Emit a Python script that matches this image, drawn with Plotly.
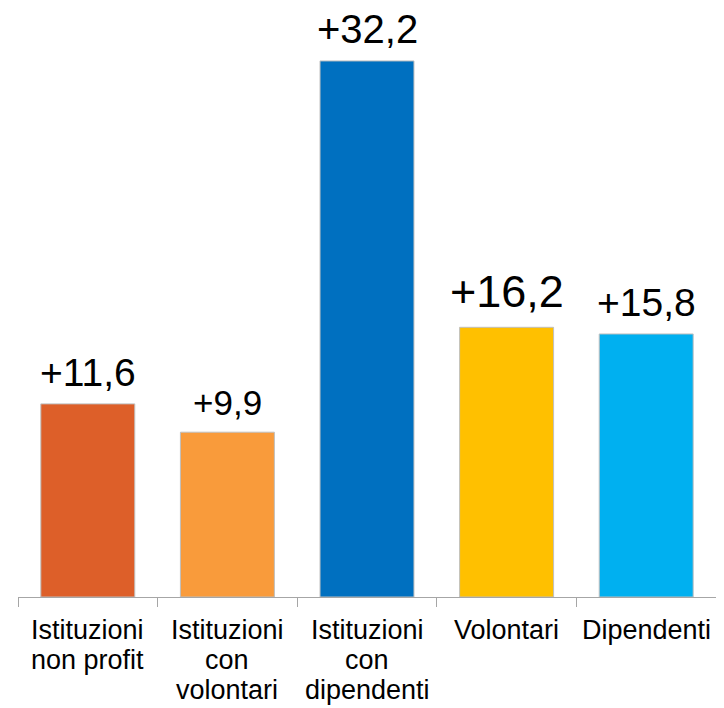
import plotly.graph_objects as go

# Data
categories = ["Istituzioni non profit", "Istituzioni con volontari",
              "Istituzioni con dipendenti", "Volontari", "Dipendenti"]
label_lines = [["Istituzioni", "non profit"],
               ["Istituzioni", "con", "volontari"],
               ["Istituzioni", "con", "dipendenti"],
               ["Volontari"],
               ["Dipendenti"]]
values = [11.6, 9.9, 32.2, 16.2, 15.8]
bar_colors = ["#DD5F29", "#F99B3B", "#0070C0", "#FFC000", "#00B0F0"]
value_font_sizes = [39, 35, 40, 45, 39]

FONT = "Liberation Sans, Arial, sans-serif"

fig = go.Figure()

fig.add_trace(go.Bar(
    x=categories,
    y=values,
    marker=dict(color=bar_colors, line=dict(color="#BFBFBF", width=1)),
    hoverinfo="x+y",
))

annotations = []

# Value labels above bars
for cat, v, fs in zip(categories, values, value_font_sizes):
    annotations.append(dict(
        x=cat, y=v, xref="x", yref="y",
        text=f"+{v:.1f}".replace(".", ","),
        showarrow=False, yanchor="bottom", yshift=8,
        font=dict(family=FONT, size=fs, color="#000000"),
    ))

# Category labels (one annotation per line for tight line spacing)
for cat, lines in zip(categories, label_lines):
    for i, line in enumerate(lines):
        annotations.append(dict(
            x=cat, y=0, xref="x", yref="paper",
            text=line, showarrow=False, yanchor="top",
            yshift=-16 - 30 * i,
            font=dict(family=FONT, size=27, color="#000000"),
        ))

# page body has an 8px margin, so the figure is 8px smaller each way
fig.update_layout(
    width=716,
    height=700,
    margin=dict(l=10, r=8, t=12, b=111),
    paper_bgcolor="white",
    plot_bgcolor="white",
    bargap=0.327,
    showlegend=False,
    annotations=annotations,
    xaxis=dict(
        showline=True, linecolor="#A6A6A6", linewidth=1,
        ticks="outside", tickson="boundaries", ticklen=9,
        tickcolor="#A6A6A6", showticklabels=False,
        showgrid=False, zeroline=False,
    ),
    yaxis=dict(visible=False, range=[0, 34.66]),
)

fig.write_html("out.html")
